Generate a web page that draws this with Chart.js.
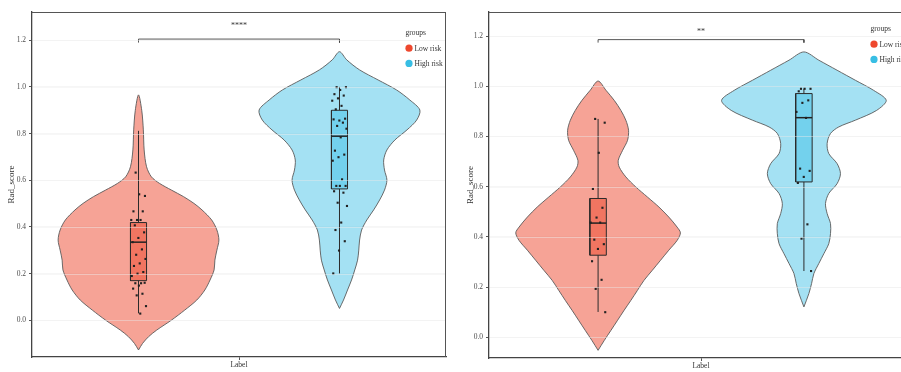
<!DOCTYPE html>
<html>
<head>
<meta charset="utf-8">
<script src="https://cdn.jsdelivr.net/npm/chart.js@4.4.1/dist/chart.umd.min.js"></script>
<style>
  html, body { margin: 0; padding: 0; background: #fff; overflow: hidden; width: 901px; height: 372px; }
  #wrap { position: relative; width: 901px; height: 372px; overflow: hidden; }
  canvas { position: absolute; top: 0; }
  #c1 { left: 0; }
  #c2 { left: 450px; }
</style>
</head>
<body>
<div id="wrap">
  <canvas id="c1" width="450" height="372"></canvas>
  <canvas id="c2" width="467" height="372"></canvas>
</div>
<script>
// ---- data ----------------------------------------------------------------
const groups = ['Low risk', 'High risk'];
const yTicks = [0, 0.2, 0.4, 0.6, 0.8, 1.0, 1.2];

// Panel A: density profile of Rad_score per group (relative half-width at each level)
const aLowLevels  = [-0.127,-0.099,-0.07,-0.042,0.001,0.044,0.087,0.13,0.173,0.216,0.258,0.301,0.344,0.387,0.43,0.473,0.501,0.53,0.558,0.587,0.615,0.658,0.73,0.816,0.90,0.966];
const aLowDensity = [0,0.05,0.125,0.225,0.41,0.575,0.725,0.825,0.89,0.94,0.95,0.975,1,0.975,0.91,0.79,0.69,0.56,0.41,0.26,0.16,0.10,0.07,0.06,0.04,0];
const aHighLevels  = [0.051,0.087,0.13,0.173,0.216,0.258,0.301,0.344,0.387,0.43,0.473,0.516,0.558,0.601,0.644,0.687,0.73,0.773,0.816,0.858,0.901,0.944,0.987,1.03,1.073,1.116,1.151];
const aHighDensity = [0,0.05,0.1,0.15,0.19,0.225,0.24,0.25,0.275,0.34,0.425,0.5,0.56,0.59,0.56,0.55,0.59,0.69,0.84,0.96,1,0.875,0.71,0.48,0.25,0.09,0];
// box statistics: [min, Q1, median, Q3, max]
const aLowBox  = [0.030, 0.170, 0.335, 0.419, 0.812];
const aHighBox = [0.201, 0.563, 0.789, 0.900, 1.000];
const aLowScores  = [0.633,0.533,0.54,0.467,0.467,0.43,0.43,0.43,0.407,0.377,0.353,0.335,0.304,0.281,0.263,0.244,0.233,0.207,0.2,0.19,0.159,0.159,0.161,0.149,0.136,0.114,0.107,0.061,0.029];
const aHighScores = [0.999,0.999,0.987,0.969,0.963,0.951,0.941,0.919,0.904,0.864,0.856,0.861,0.847,0.833,0.821,0.784,0.727,0.71,0.699,0.684,0.604,0.576,0.576,0.576,0.553,0.547,0.504,0.49,0.419,0.387,0.339,0.299,0.201];
const aSignif = '****';

// Panel B
const bLowLevels  = [-0.052,-0.012,0.028,0.068,0.108,0.147,0.187,0.227,0.267,0.307,0.347,0.386,0.416,0.439,0.479,0.519,0.559,0.599,0.639,0.678,0.705,0.745,0.785,0.825,0.865,0.904,0.944,0.984,1.021];
const bLowDensity = [0,0.076,0.157,0.237,0.317,0.398,0.478,0.558,0.659,0.759,0.859,0.96,1,0.96,0.859,0.739,0.599,0.458,0.337,0.257,0.245,0.298,0.358,0.37,0.337,0.277,0.196,0.096,0];
const bHighLevels  = [0.121,0.174,0.214,0.254,0.294,0.333,0.373,0.413,0.453,0.493,0.533,0.573,0.612,0.652,0.692,0.732,0.772,0.812,0.838,0.865,0.904,0.944,0.984,1.024,1.064,1.104,1.137];
const bHighDensity = [0,0.06,0.093,0.121,0.181,0.242,0.302,0.323,0.323,0.282,0.262,0.302,0.403,0.444,0.403,0.302,0.282,0.323,0.423,0.625,0.883,1,0.846,0.625,0.403,0.181,0];
const bLowBox  = [0.101, 0.327, 0.455, 0.553, 0.870];
const bHighBox = [0.264, 0.619, 0.875, 0.971, 0.990];
const bLowScores  = [0.87,0.855,0.735,0.591,0.516,0.477,0.457,0.457,0.389,0.371,0.352,0.303,0.229,0.193,0.1];
const bHighScores = [0.99,0.99,0.99,0.98,0.944,0.934,0.898,0.874,0.672,0.663,0.639,0.615,0.45,0.393,0.264];
const bSignif = '**';

// ---- styling -------------------------------------------------------------
const SERIF = "'Liberation Serif', 'DejaVu Serif', serif";
Chart.defaults.font.family = SERIF;
const solid = ['rgb(238,72,46)', 'rgb(56,190,228)'];
const fills = ['rgba(238,72,46,0.5)', 'rgba(56,190,228,0.46)'];
const groupPos = [-1, 1];      // dodge position of each group around the "Label" category
const xHalf = 2.06;            // half-range of the category axis
const violinHalf = 0.8;        // widest half-width of a violin
const boxHalf = 0.08;          // half-width of the box
const jitterHalf = 0.075;

function violinOutline(c, levels, dens) {
  const right = levels.map((y, i) => ({ x: c + dens[i] * violinHalf, y }));
  const left = levels.map((y, i) => ({ x: c - dens[i] * violinHalf, y })).reverse();
  return right.concat(left.slice(1));
}
function jitter(i) {
  const f = (i * 0.6180339887 + 0.31) % 1;
  return (f * 2 - 1) * jitterHalf;
}

// faint major grid laid over the filled shapes
const softGrid = {
  id: 'softGrid',
  afterDatasetsDraw(chart) {
    const { ctx, chartArea: a, scales } = chart;
    ctx.save();
    ctx.strokeStyle = 'rgba(238,238,238,0.45)';
    ctx.lineWidth = 1;
    ctx.beginPath();
    yTicks.forEach(v => {
      const y = Math.round(scales.y.getPixelForValue(v)) + 0.5;
      ctx.moveTo(a.left + 1, y); ctx.lineTo(a.right - 1, y);
    });
    ctx.stroke();
    ctx.restore();
  }
};

// frame, significance label and group key
const decor = {
  id: 'decor',
  afterDraw(chart, args, o) {
    const { ctx, chartArea: a, scales } = chart;
    ctx.save();
    ctx.strokeStyle = '#555';
    ctx.lineWidth = 1;
    ctx.beginPath();
    ctx.moveTo(a.left, a.top + 0.5); ctx.lineTo(a.right, a.top + 0.5);
    ctx.moveTo(a.right - 0.5, a.top); ctx.lineTo(a.right - 0.5, a.bottom);
    ctx.stroke();

    ctx.fillStyle = '#333';
    ctx.font = '8px ' + SERIF;
    ctx.textAlign = 'center';
    ctx.textBaseline = 'middle';
    ctx.fillText(o.signif, scales.x.getPixelForValue(0), scales.y.getPixelForValue(o.signifY));

    ctx.textAlign = 'left';
    ctx.font = '7.5px ' + SERIF;
    ctx.fillStyle = '#333';
    ctx.fillText('groups', o.keyX, o.keyY);
    groups.forEach((g, k) => {
      const cy = o.keyY + o.keyStep * (k + 1);
      ctx.beginPath();
      ctx.fillStyle = solid[k];
      ctx.arc(o.keyX + 3.5, cy, 3.6, 0, Math.PI * 2);
      ctx.fill();
      ctx.fillStyle = '#333';
      ctx.fillText(g, o.keyX + 9, cy + 0.5);
    });
    ctx.restore();
  }
};

function makePanel(id, p) {
  const datasets = [];
  [0, 1].forEach(k => {
    const c = groupPos[k];
    const [mn, q1, md, q3, mx] = p.box[k];
    datasets.push({
      data: violinOutline(c, p.levels[k], p.density[k]),
      fill: 'shape', backgroundColor: fills[k], borderColor: '#5a5a5a', borderWidth: 0.9,
      tension: 0.3, pointRadius: 0, order: 10
    });
    datasets.push({
      data: [{ x: c, y: mn }, { x: c, y: q1 }, { x: c, y: null }, { x: c, y: q3 }, { x: c, y: mx }],
      fill: false, borderColor: '#2b2b2b', borderWidth: 1, pointRadius: 0, order: 8
    });
    datasets.push({
      data: [{ x: c - boxHalf, y: q1 }, { x: c + boxHalf, y: q1 }, { x: c + boxHalf, y: q3 },
             { x: c - boxHalf, y: q3 }, { x: c - boxHalf, y: q1 }],
      fill: 'shape', backgroundColor: fills[k], borderColor: '#2b2b2b', borderWidth: 1,
      tension: 0, pointRadius: 0, order: 7
    });
    datasets.push({
      data: [{ x: c - boxHalf, y: md }, { x: c + boxHalf, y: md }],
      fill: false, borderColor: '#222', borderWidth: 1.5, pointRadius: 0, order: 6
    });
    datasets.push({
      data: p.scores[k].map((v, i) => ({ x: c + jitter(i), y: v })),
      showLine: false, pointStyle: 'rect', pointRadius: 1.5,
      pointBackgroundColor: '#222', pointBorderWidth: 0, order: 1
    });
  });
  const [by, tip] = p.bracket;
  datasets.push({
    data: [{ x: groupPos[0], y: tip }, { x: groupPos[0], y: by }, { x: groupPos[1], y: by }, { x: groupPos[1], y: tip }],
    fill: false, borderColor: '#444', borderWidth: 0.9, pointRadius: 0, order: 5
  });

  const tickFont = { family: SERIF, size: 7.5 };
  return new Chart(document.getElementById(id), {
    type: 'line',
    data: { datasets },
    plugins: [softGrid, decor],
    options: {
      responsive: false,
      animation: false,
      events: [],
      layout: { padding: { left: 0, top: 12, right: 2, bottom: 0 } },
      plugins: {
        legend: { display: false },
        tooltip: { enabled: false },
        decor: p.decor
      },
      scales: {
        x: {
          type: 'linear', min: -xHalf, max: xHalf,
          afterBuildTicks: s => { s.ticks = [{ value: 0 }]; },
          afterFit: s => { s.height = p.xAxisH; },
          ticks: { callback: () => 'Label', font: tickFont, color: '#333', padding: 1, maxRotation: 0, autoSkip: false },
          grid: { drawOnChartArea: false, tickLength: 3, tickColor: '#555' },
          border: { color: '#444', width: 1.3 }
        },
        y: {
          type: 'linear', min: p.yMin, max: p.yMax,
          afterBuildTicks: s => { s.ticks = yTicks.map(v => ({ value: v })); },
          afterFit: s => { s.width = p.yAxisW; },
          ticks: { callback: v => v.toFixed(1), font: tickFont, color: '#4d4d4d', padding: 3 },
          grid: { color: 'rgba(0,0,0,0.035)', lineWidth: 1, tickLength: 3, tickColor: '#555' },
          border: { color: '#444', width: 1.3 },
          title: { display: true, text: 'Rad_score', font: { family: SERIF, size: 9 }, color: '#333',
                   padding: { top: p.titlePad, bottom: 0 } }
        }
      }
    }
  });
}

makePanel('c1', {
  levels: [aLowLevels, aHighLevels], density: [aLowDensity, aHighDensity],
  box: [aLowBox, aHighBox], scores: [aLowScores, aHighScores],
  bracket: [1.205, 1.19],
  yMin: -0.157, yMax: 1.321, yAxisW: 32, xAxisH: 15, titlePad: 6.6,
  decor: { signif: aSignif, signifY: 1.262, keyX: 405.5, keyY: 33, keyStep: 15.2 }
});
makePanel('c2', {
  levels: [bLowLevels, bHighLevels], density: [bLowDensity, bHighDensity],
  box: [bLowBox, bHighBox], scores: [bLowScores, bHighScores],
  bracket: [1.186, 1.174],
  yMin: -0.0825, yMax: 1.296, yAxisW: 39, xAxisH: 14, titlePad: 15.3,
  decor: { signif: bSignif, signifY: 1.218, keyX: 420.5, keyY: 29, keyStep: 15.2 }
});
</script>
</body>
</html>
